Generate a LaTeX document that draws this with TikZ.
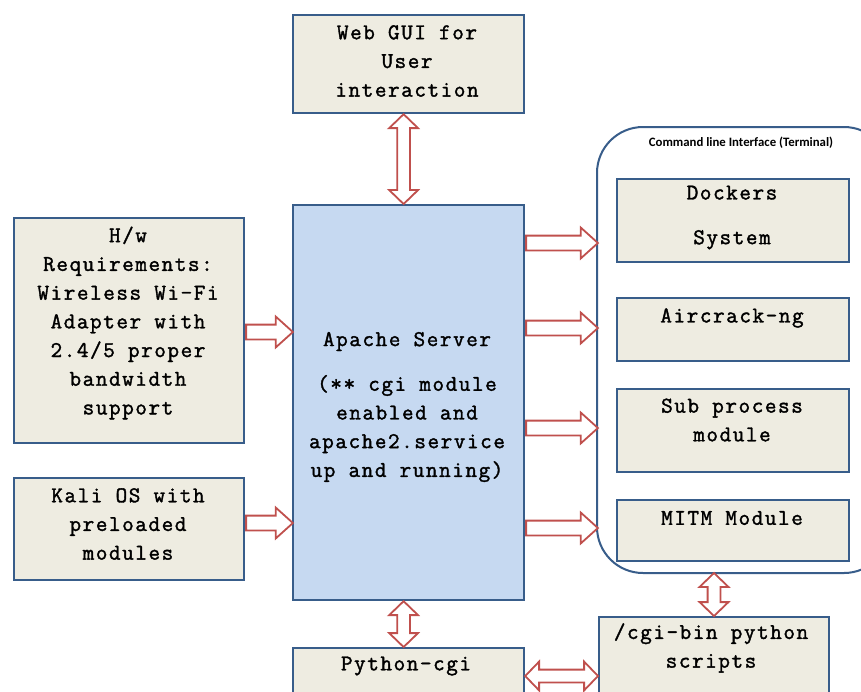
\documentclass[tikz,border=0pt]{standalone}
\usepackage{fontspec}
\newfontfamily\cour{Latin Modern Mono}[LetterSpace=7,FakeBold=1.6]
\newfontfamily\calib{Carlito}
\usetikzlibrary{shapes.arrows,calc}
\definecolor{boxfill}{HTML}{EEECE1}
\definecolor{boxline}{HTML}{385D8A}
\definecolor{apfill}{HTML}{C6D9F1}
\definecolor{arrred}{HTML}{C0504D}
\tikzset{
  box/.style={draw=boxline,line width=2.2pt,fill=boxfill,inner sep=0pt,anchor=north west},
  txt/.style={font=\fontsize{22.5}{28.7}\selectfont\cour,align=center,inner sep=0pt,text=black},
  sarr/.style={single arrow,draw=arrred,fill=white,line width=1.8pt,inner sep=6.5pt,inner xsep=0pt,
     single arrow head extend=8pt,single arrow tip angle=84,minimum height=#1,anchor=tail},
  darr/.style={double arrow,draw=arrred,fill=white,line width=1.8pt,inner sep=5.5pt,inner xsep=0pt,
     double arrow head extend=8pt,double arrow tip angle=92,minimum height=#1},
}
\begin{document}
\begin{tikzpicture}[x=1pt,y=-1pt]
\clip (0,0) rectangle (861,691);
\fill[white] (0,0) rectangle (861,691);
% container
\draw[boxline,line width=2pt,rounded corners=46pt] (597,127) rectangle (890,573);
\node[font=\calib\bfseries\fontsize{12.8}{14}\selectfont,inner sep=0pt] (cli) at (741,143) {Command line Interface (Terminal)};
% boxes
\node[box,minimum width=231pt,minimum height=98pt] (web) at (292,14) {};
\node[box,fill=apfill,minimum width=231pt,minimum height=395pt] (apache) at (292,204) {};
\node[box,minimum width=230pt,minimum height=225pt] (hw) at (13,217) {};
\node[box,minimum width=230pt,minimum height=102pt] (kali) at (13,477) {};
\node[box,minimum width=231pt,minimum height=60pt] (pycgi) at (292,647) {};
\node[box,minimum width=230pt,minimum height=90pt] (cgibin) at (598,616) {};
\node[box,minimum width=232pt,minimum height=83pt] (dock) at (616,178) {};
\node[box,minimum width=232pt,minimum height=63pt] (air) at (616,297) {};
\node[box,minimum width=232pt,minimum height=83pt] (sub) at (616,388) {};
\node[box,minimum width=232pt,minimum height=61pt] (mitm) at (616,499) {};
% texts
\node[txt] (tweb) at (407,61) {Web GUI for\\User\\interaction};
\node[txt] (thw) at (128,323) {H/w\\Requirements:\\Wireless Wi-Fi\\Adapter with\\2.4/5 proper\\bandwidth\\support};
\node[txt] (tkali) at (128,524) {Kali OS with\\preloaded\\modules};
\node[txt] (tap) at (407,407) {Apache Server\\[16pt](** cgi module\\enabled and\\apache2.service\\up and running)};
\node[txt] (tdock) at (732,217.5) {Dockers\\[16pt]System};
\node[txt] (tair) at (732,318) {Aircrack-ng};
\node[txt] (tsub) at (732,420) {Sub process\\module};
\node[txt] (tmitm) at (732,518) {MITM Module};
\node[txt] (tpy) at (406,666) {Python-cgi};
\node[txt] (tcgi) at (711,648) {/cgi-bin python\\scripts};
% container anchor coordinates
\coordinate (contL) at (597,0);
\coordinate (contB) at (714,573);
% arrows
\path let \p1=(web.south), \p2=(apache.north) in
  node[darr={\y1-\y2},rotate=90] (a1) at ({\x1-5},{(\y1+\y2)/2}) {};
\path let \p1=(apache.south), \p2=(pycgi.north) in
  node[darr={\y1-\y2},rotate=90] (a2) at ({\x1-5},{(\y1+\y2)/2}) {};
\path let \p1=(contB), \p2=(cgibin.north) in
  node[darr={\y1-\y2},rotate=90] (a3) at ({\x1},{(\y1+\y2)/2}) {};
\coordinate (h4) at (0,676);
\coordinate (h5) at (0,332);
\coordinate (h6) at (0,523);
\path let \p1=(pycgi.east), \p2=(cgibin.west), \p3=(h4) in
  node[darr={\x2-\x1}] (a4) at ({(\x1+\x2)/2},{\y3}) {};
\path let \p1=(hw.east), \p2=(apache.west), \p3=(h5) in
  node[sarr={\x2-\x1}] (a5) at ({\x1},{\y3}) {};
\path let \p1=(kali.east), \p2=(apache.west), \p3=(h6) in
  node[sarr={\x2-\x1}] (a6) at ({\x1},{\y3}) {};
\foreach \yy [count=\i] in {243,328,428,528}{
  \coordinate (hr\i) at (0,\yy);
  \path let \p1=(apache.east), \p2=(contL), \p3=(hr\i) in
    node[sarr={\x2-\x1}] (r\i) at ({\x1},{\y3}) {};
}
\end{tikzpicture}
\end{document}
